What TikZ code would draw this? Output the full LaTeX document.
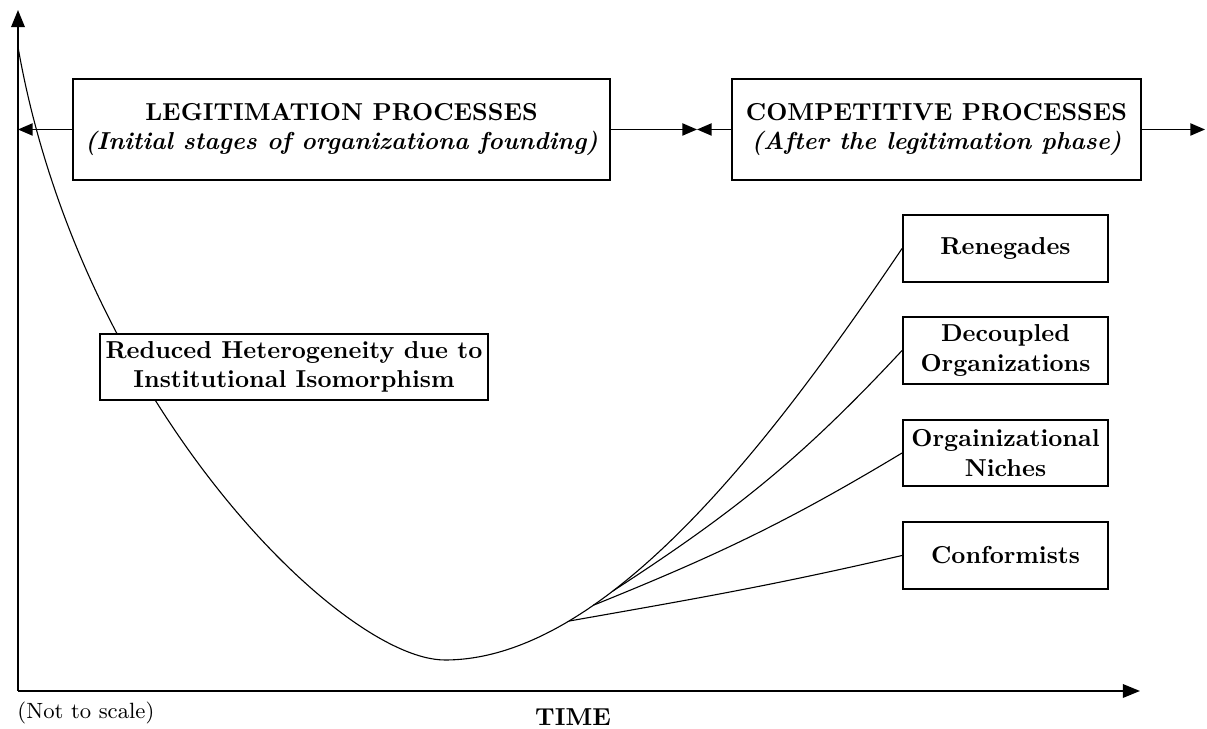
\documentclass[tikz,border=0pt]{standalone}
\usetikzlibrary{arrows.meta}
\begin{document}
\begin{tikzpicture}[x=0.408pt,y=0.408pt,
  box/.style={draw,line width=0.8pt,fill=white,font=\bfseries,align=center,inner sep=1pt},
  axisline/.style={line width=0.8pt,-{Triangle[length=7pt,width=5.5pt]}},
  link/.style={line width=0.6pt,-{Triangle[length=6pt,width=5pt]}},
  curveline/.style={line width=0.45pt}]
\useasboundingbox (0,0) rectangle (1207,729);
% axes
\coordinate (O) at (18,38);
\coordinate (ytip) at (18,719);
\coordinate (xtip) at (1140,38);
\draw[axisline] (O) -- (ytip);
\draw[axisline] (O) -- (xtip);
% boxes positions (nodes drawn after curves)
\coordinate (start) at (18,682);
\coordinate (low) at (445,69);
\path (1005.5,480.5) coordinate (renc);
% curves
\node[box,minimum width=83.6pt,minimum height=27.3pt] (ren) at (1005.5,480.5) {Renegades};
\node[box,minimum width=83.6pt,minimum height=27.3pt] (dec) at (1005.5,378.5) {Decoupled\\Organizations};
\node[box,minimum width=83.6pt,minimum height=27.3pt] (nic) at (1005.5,276) {Orgainizational\\Niches};
\node[box,minimum width=83.6pt,minimum height=27.3pt] (con) at (1005.5,173.5) {Conformists};
\draw[curveline] (start) .. controls (80,329) and (340,69) .. (low)
  .. controls (610,69) and (780,300) .. (ren.west)
  coordinate[pos=0.25] (b1) coordinate[pos=0.30] (b2) coordinate[pos=0.34] (b3);
\draw[curveline] (b1) to[out=10,in=193] (con.west);
\draw[curveline] (b2) to[out=22,in=211] (nic.west);
\draw[curveline] (b3) to[out=33,in=227] (dec.west);
% boxes
\node[box,minimum width=219.1pt,minimum height=41.2pt] (legit) at (341.5,599.5)
  {LEGITIMATION PROCESSES\\\textit{(Initial stages of organizationa founding)}};
\node[box,minimum width=166.9pt,minimum height=41.2pt] (comp) at (936.5,599.5)
  {COMPETITIVE PROCESSES\\\textit{(After the legitimation phase)}};
\node[box,minimum width=158.3pt,minimum height=26.9pt] (red) at (294,362)
  {Reduced Heterogeneity due to\\Institutional Isomorphism};
% connectors
\coordinate (mid) at (697,599.5);
\coordinate (rtip) at (1205,599.5);
\draw[link] (legit.west) -- (O |- legit.west);
\draw[link] (legit.east) -- (mid);
\draw[link] (comp.west) -- (mid);
\draw[link] (comp.east) -- (rtip);
% labels
\node[font=\small,anchor=north west,inner sep=0pt] (nts) at (17,28) {(Not to scale)};
\node[font=\bfseries,inner sep=0pt] (time) at (573,12) {TIME};
\end{tikzpicture}
\end{document}
